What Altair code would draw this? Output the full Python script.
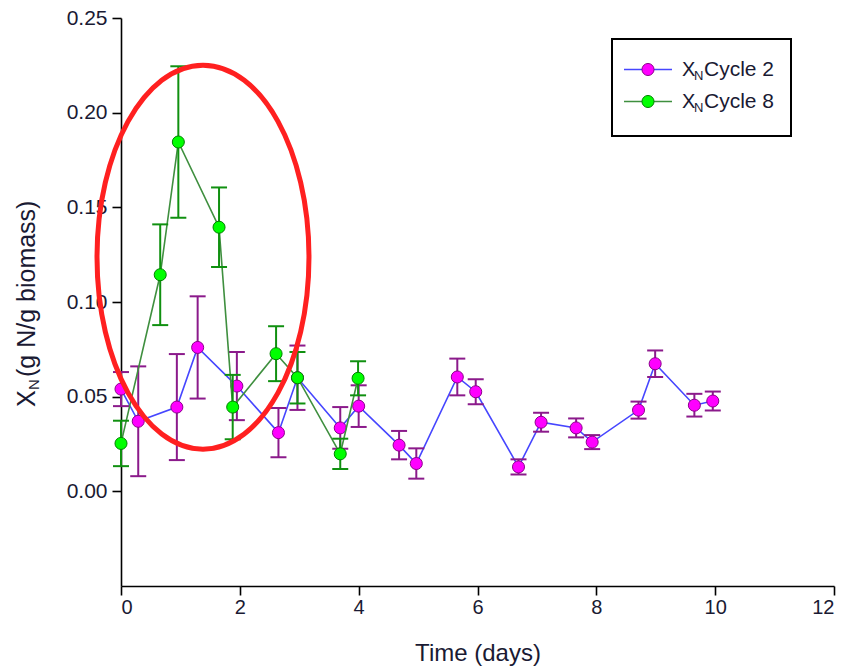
import altair as alt
import pandas as pd

# ---------------- data ----------------
c2_t = [0.0, 0.29, 0.94, 1.29, 1.95, 2.65, 2.97, 3.69, 4.0, 4.68, 4.97,
        5.66, 5.97, 6.69, 7.07, 7.66, 7.93, 8.71, 8.99, 9.65, 9.96]
c2_y = [0.054, 0.037, 0.0445, 0.076, 0.0556, 0.031, 0.060, 0.0335, 0.045, 0.0244, 0.0147,
        0.0604, 0.0526, 0.0129, 0.0365, 0.0335, 0.026, 0.0429, 0.0674, 0.0455, 0.0477]
c2_err = [0.009, 0.029, 0.028, 0.027, 0.018, 0.013, 0.017, 0.011, 0.011, 0.0075, 0.008,
          0.0097, 0.0066, 0.004, 0.005, 0.005, 0.0037, 0.0045, 0.007, 0.006, 0.005]

c8_t = [0.0, 0.66, 0.965, 1.65, 1.88, 2.61, 2.97, 3.69, 3.99]
c8_y = [0.0253, 0.1144, 0.1845, 0.1395, 0.0445, 0.0727, 0.060, 0.0198, 0.0597]
c8_err = [0.012, 0.0266, 0.040, 0.021, 0.017, 0.0145, 0.0136, 0.008, 0.009]

x_ticks = [0, 2, 4, 6, 8, 10, 12]
y_ticks = [0.0, 0.05, 0.10, 0.15, 0.20, 0.25]

# highlighted region (annotation ellipse centre)
ell_t = [1.38]
ell_y = [0.1237]

FONT = "Liberation Sans"
TXT = "#1a1a33"

def frame(t, y, e):
    return pd.DataFrame({"t": t, "y": y,
                         "lo": [a - b for a, b in zip(y, e)],
                         "hi": [a + b for a, b in zip(y, e)]})

d2 = frame(c2_t, c2_y, c2_err)
d8 = frame(c8_t, c8_y, c8_err)

xs = alt.Scale(domain=[0, 12], nice=False, zero=False)
ys = alt.Scale(domain=[-0.05, 0.25], nice=False, zero=False)

X_AX = alt.Axis(values=x_ticks, title="Time (days)", format="d",
                labelFontSize=20, labelPadding=2, titleFontSize=24, titlePadding=24)
Y_AX = alt.Axis(values=y_ticks, format=".2f", title=None,
                labelFontSize=21, labelPadding=5)
X = alt.X("t:Q", scale=xs, axis=X_AX)


def series(df, line_col, fill_col, edge_col, bar_col):
    base = alt.Chart(df)
    line = base.mark_line(color=line_col, strokeWidth=1.6).encode(
        x=X, y=alt.Y("y:Q", scale=ys, axis=Y_AX))
    bars = base.mark_rule(color=bar_col, strokeWidth=2).encode(
        x=X, y=alt.Y("lo:Q", scale=ys, axis=Y_AX), y2="hi:Q")
    cap_hi = base.mark_rule(color=bar_col, strokeWidth=2, xOffset=-8, x2Offset=8).encode(
        x=X, x2="t:Q", y=alt.Y("hi:Q", scale=ys, axis=Y_AX))
    cap_lo = base.mark_rule(color=bar_col, strokeWidth=2, xOffset=-8, x2Offset=8).encode(
        x=X, x2="t:Q", y=alt.Y("lo:Q", scale=ys, axis=Y_AX))
    pts = base.mark_point(filled=True, size=145, color=fill_col, stroke=edge_col,
                          strokeWidth=1, opacity=1).encode(
        x=X, y=alt.Y("y:Q", scale=ys, axis=Y_AX))
    return [line, bars, cap_hi, cap_lo, pts]


layers = []
layers += series(d2, "#4646ff", "#ff00ff", "#8b008b", "#8b1a8b")
layers += series(d8, "#3f8f3f", "#00ff00", "#008000", "#109010")

# red annotation ellipse
ell_path = "M -0.552 0 A 0.552 1 0 1 0 0.552 0 A 0.552 1 0 1 0 -0.552 0 Z"
ell = alt.Chart(pd.DataFrame({"t": ell_t, "y": ell_y})).mark_point(
    shape=ell_path, size=147456, filled=False, stroke="#ff2020", strokeWidth=5, opacity=1
).encode(x=X, y=alt.Y("y:Q", scale=ys, axis=Y_AX))
layers.append(ell)

one = pd.DataFrame({"a": [0]})
dec = alt.Chart(one)

# y-axis title with subscript
layers.append(dec.mark_text(text="X", angle=270, align="left", baseline="middle",
                            font=FONT, fontSize=25, color=TXT).encode(
    x=alt.value(-94), y=alt.value(389)))
layers.append(dec.mark_text(text="N", angle=270, align="left", baseline="middle",
                            font=FONT, fontSize=15, color=TXT).encode(
    x=alt.value(-87), y=alt.value(372)))
layers.append(dec.mark_text(text="(g N/g biomass)", angle=270, align="left", baseline="middle",
                            font=FONT, fontSize=25, color=TXT).encode(
    x=alt.value(-94), y=alt.value(359)))

# legend box
layers.append(dec.mark_rect(fill="white", stroke="black", strokeWidth=2).encode(
    x=alt.value(491), x2=alt.value(670), y=alt.value(21), y2=alt.value(118)))
leg = [("Cycle 2", 51.5, "#4646ff", "#ff00ff", "#8b008b"),
       ("Cycle 8", 83.5, "#3f8f3f", "#00ff00", "#008000")]
for lab, yy, lc, fc, ec in leg:
    layers.append(dec.mark_rule(color=lc, strokeWidth=1.6).encode(
        x=alt.value(503), x2=alt.value(551), y=alt.value(yy)))
    layers.append(dec.mark_point(filled=True, size=145, color=fc, stroke=ec, strokeWidth=1,
                                 opacity=1).encode(x=alt.value(527), y=alt.value(yy)))
    layers.append(dec.mark_text(text="X", align="left", baseline="middle", font=FONT,
                                fontSize=20, color=TXT).encode(
        x=alt.value(561), y=alt.value(yy)))
    layers.append(dec.mark_text(text="N", align="left", baseline="middle", font=FONT,
                                fontSize=13, color=TXT).encode(
        x=alt.value(573), y=alt.value(yy + 6)))
    layers.append(dec.mark_text(text=lab, align="left", baseline="middle", font=FONT,
                                fontSize=21, color=TXT).encode(
        x=alt.value(583), y=alt.value(yy)))

chart = alt.layer(*layers).properties(
    width=713, height=568,
    autosize=alt.AutoSizeParams(type="none"),
    padding={"left": 121, "top": 18, "right": 9, "bottom": 85},
    background="white",
).configure_view(stroke=None).configure_axis(
    grid=False, domainColor="black", domainWidth=1.6, tickColor="black", tickWidth=1.6,
    tickSize=9, labelFont=FONT, labelColor=TXT, titleFont=FONT, titleColor=TXT,
    titleFontWeight="normal",
)

chart.save("out.html", embed_options={"renderer": "svg", "actions": False})
